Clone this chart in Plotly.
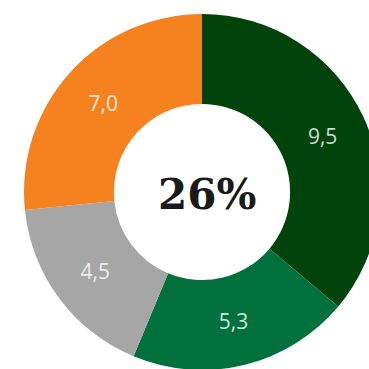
import plotly.graph_objects as go

# Segment values (clockwise from 12 o'clock) and their colours
categories = ["A", "B", "C", "D"]
values = [9.5, 5.3, 4.5, 7.0]
colors = ["#00440c", "#00703c", "#a6a6a6", "#f5821f"]
labels = [f"{v:.1f}".replace(".", ",") for v in values]
center_text = f"{round(sum(values))}%"

W, H = 380, 370

fig = go.Figure(
    go.Pie(
        labels=categories,
        values=values,
        text=labels,
        textinfo="text",
        textposition="inside",
        insidetextorientation="horizontal",
        textfont=dict(family="Open Sans", size=21, color="rgba(255,255,255,0.82)"),
        marker=dict(colors=colors, line=dict(width=0)),
        hole=0.495,
        sort=False,
        direction="clockwise",
        rotation=0,
        showlegend=False,
        domain=dict(x=[24 / W, 1], y=[0, 1 - 14 / H]),
    )
)

fig.add_annotation(
    text=f"<b>{center_text}</b>",
    x=207 / W,
    y=1 - 195 / H,
    xref="paper",
    yref="paper",
    showarrow=False,
    font=dict(family="DejaVu Serif", size=42, color="#1a1a1a"),
)

fig.update_layout(
    width=W,
    height=H,
    margin=dict(l=0, r=0, t=0, b=0),
    paper_bgcolor="white",
    plot_bgcolor="white",
)

fig.write_html(
    "out.html",
    post_script="document.documentElement.style.overflow='hidden';document.body.style.overflow='hidden';",
)
